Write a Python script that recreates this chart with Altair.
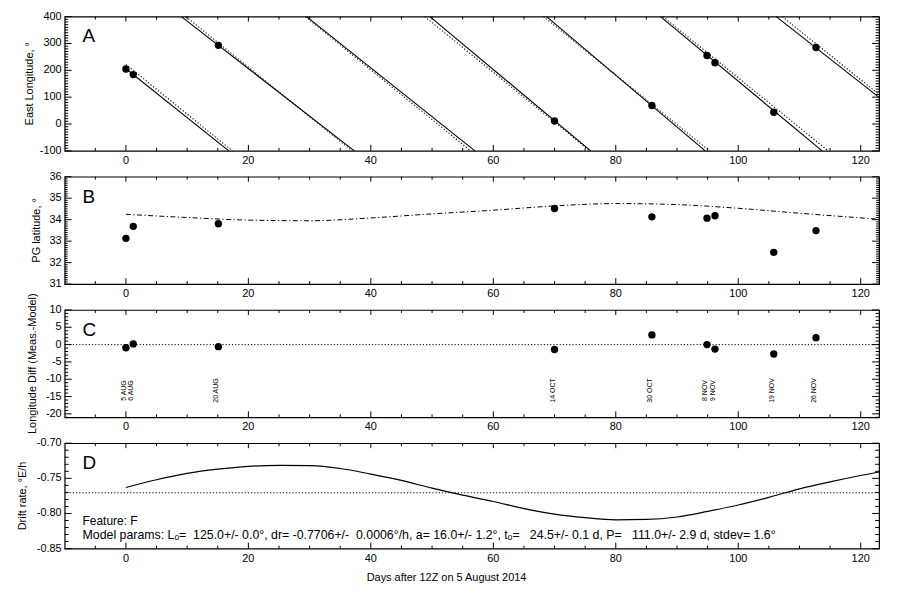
import altair as alt
import pandas as pd

FONT = "Liberation Sans"

# ---------------- data ----------------
obs_day = [0.0, 1.2, 15.1, 70.0, 85.9, 94.9, 96.2, 105.8, 112.7]
obs_date = ["5 AUG", "6 AUG", "20 AUG", "14 OCT", "30 OCT", "8 NOV", "9 NOV", "19 NOV", "26 NOV"]
obs_lon = [205, 184, 293, 11, 69, 255, 228, 44, 285]
obs_lat = [33.13, 33.69, 33.81, 34.52, 34.13, 34.07, 34.18, 32.48, 33.49]
obs_dlon = [-0.9, 0.2, -0.6, -1.4, 2.8, 0.0, -1.3, -2.7, 2.0]

# Panel A: full model tracks (solid) and linear-drift tracks (dotted)
seg_id = [1, 1, 2, 2, 3, 3, 4, 4, 5, 5, 6, 6, 7, 7]
fit_day = [0.0, 16.8, 9.05, 37.3, 29.5, 57.0, 49.65, 75.9, 68.7, 94.6, 87.3, 113.7, 106.2, 123.0]
fit_lon = [206, -100, 400, -100, 400, -100, 400, -100, 400, -100, 400, -100, 400, 99]
lin_day = [0.0, 17.4, 9.8, 36.9, 29.3, 56.3, 48.8, 75.8, 68.2, 95.3, 87.7, 114.7, 107.2, 123.0]
lin_lon = [222, -100, 400, -100, 400, -100, 400, -100, 400, -100, 400, -100, 400, 110]

# Panel B: model latitude (dash-dot)
latm_day = [0, 10, 20, 30, 40, 50, 60, 70, 80, 90, 100, 110, 123]
latm_val = [34.25, 34.10, 33.98, 33.95, 34.08, 34.27, 34.44, 34.64, 34.75, 34.70, 34.53, 34.30, 34.02]

# Panel D: drift rate
drift_day = [0, 5, 10, 15, 20, 25, 30, 35, 40, 45, 50, 55, 60, 65, 70, 75, 80, 85, 90,
             95, 100, 105, 110, 115, 120, 123]
drift_val = [-0.763, -0.752, -0.743, -0.737, -0.733, -0.7315, -0.732, -0.736, -0.744, -0.753,
             -0.764, -0.774, -0.783, -0.793, -0.801, -0.806, -0.809, -0.8085, -0.805, -0.797,
             -0.788, -0.777, -0.765, -0.755, -0.746, -0.741]
drift_mean = [-0.7706]
zero_line = [0.0]

# tick values and tick labels
XDOM = [-10, 123]
XMAJ = [0, 20, 40, 60, 80, 100, 120]
XLAB = ["0", "20", "40", "60", "80", "100", "120"]
XMIN = [v for v in range(-5, 125, 5) if v % 20 != 0]

A_DOM = [-100, 400]
A_MAJ = [-100, 0, 100, 200, 300, 400]
A_LAB = ["-100", "0", "100", "200", "300", "400"]
A_MIN = [v for v in range(-100, 401, 10) if v % 100 != 0]

B_DOM = [31, 36]
B_MAJ = [31, 32, 33, 34, 35, 36]
B_LAB = ["31", "32", "33", "34", "35", "36"]
B_MIN = [round(31 + k * 0.1, 1) for k in range(51) if k % 10 != 0]

C_DOM = [-21, 10]
C_MAJ = [-20, -15, -10, -5, 0, 5, 10]
C_LAB = ["-20", "-15", "-10", "-5", "0", "5", "10"]
C_MIN = [v for v in range(-21, 11) if v % 5 != 0]

D_DOM = [-0.85, -0.70]
D_MAJ = [-0.85, -0.80, -0.75, -0.70]
D_LAB = ["-0.85", "-0.80", "-0.75", "-0.70"]
D_MIN = [round(-0.85 + k * 0.01, 2) for k in range(16) if k % 5 != 0]

panel_letters = ["A", "B", "C", "D"]
feature_text = "Feature: F"
params_text = ("Model params: L\u2092=\u00a0 125.0+/- 0.0\u00b0, dr= -0.7706+/-\u00a0 0.0006\u00b0/h, "
               "a= 16.0+/- 1.2\u00b0, t\u2092=\u00a0\u00a0 24.5+/- 0.1 d, P=\u00a0\u00a0 111.0+/- 2.9 d, stdev= 1.6\u00b0")
x_title = "Days after 12Z on 5 August 2014"
y_titles = ["East Longitude, \u00b0", "PG latitude, \u00b0", "Longitude Diff (Meas.-Model)", "Drift rate, \u00b0E/h"]

# ---------------- tables ----------------
obs = pd.DataFrame({"day": obs_day, "date": obs_date, "lon": obs_lon, "lat": obs_lat, "dlon": obs_dlon})
fit = pd.DataFrame({"seg": seg_id, "day": fit_day, "lon": fit_lon})
lin = pd.DataFrame({"seg": seg_id, "day": lin_day, "lon": lin_lon})
latm = pd.DataFrame({"day": latm_day, "lat": latm_val})
drift = pd.DataFrame({"day": drift_day, "rate": drift_val})
dmean = pd.DataFrame({"rate": drift_mean})
zl = pd.DataFrame({"dlon": zero_line})

W = 819


def xs():
    return alt.Scale(domain=XDOM, nice=False, zero=False)


def ys(dom):
    return alt.Scale(domain=dom, nice=False, zero=False)


def X(field):
    return alt.X(field, type="quantitative", scale=xs(), axis=None)


def Y(field, dom):
    return alt.Y(field, type="quantitative", scale=ys(dom), axis=None)


def frame_layers(h, ydom, ymaj, ylab, ymin, ytitle, ytitle_x, ymaj_len=7, ymin_len=3.5,
                 with_xtitle=False):
    """Inward ticks on all four sides (rules whose ends go through the panel scales),
    tick labels and axis titles."""
    out = []
    ysp = (ydom[1] - ydom[0]) / h          # data units per pixel, y
    xsp = (XDOM[1] - XDOM[0]) / W          # data units per pixel, x
    # x ticks: bottom and top
    for vals, ln_b, ln_t in ((XMAJ, 6, 5), (XMIN, 3, 3)):
        n = len(vals)
        bot = pd.DataFrame({"xv": vals, "ya": [ydom[0]] * n, "yb": [ydom[0] + ln_b * ysp] * n})
        top = pd.DataFrame({"xv": vals, "ya": [ydom[1]] * n, "yb": [ydom[1] - ln_t * ysp] * n})
        for d in (bot, top):
            out.append(alt.Chart(d).mark_rule(color="black", strokeWidth=1).encode(
                x=X("xv"), y=Y("ya", ydom), y2="yb:Q"))
    # y ticks: left and right
    for vals, ln in ((ymaj, ymaj_len), (ymin, ymin_len)):
        n = len(vals)
        left = pd.DataFrame({"yv": vals, "xa": [XDOM[0]] * n, "xb": [XDOM[0] + ln * xsp] * n})
        right = pd.DataFrame({"yv": vals, "xa": [XDOM[1]] * n, "xb": [XDOM[1] - ln * xsp] * n})
        for d in (left, right):
            out.append(alt.Chart(d).mark_rule(color="black", strokeWidth=1).encode(
                y=Y("yv", ydom), x=X("xa"), x2="xb:Q"))
    # x tick labels
    out.append(alt.Chart(pd.DataFrame({"v": XMAJ, "t": XLAB})).mark_text(
        font=FONT, fontSize=11, align="center", baseline="top", color="black").encode(
        x=X("v"), y=alt.value(h + 4), text="t:N"))
    # y tick labels
    out.append(alt.Chart(pd.DataFrame({"v": ymaj, "t": ylab})).mark_text(
        font=FONT, fontSize=11, align="right", baseline="middle", color="black").encode(
        y=Y("v", ydom), x=alt.value(-3), text="t:N"))
    # y title
    out.append(alt.Chart(pd.DataFrame({"t": [ytitle]})).mark_text(
        font=FONT, fontSize=11, align="center", baseline="middle", angle=270, color="black").encode(
        x=alt.value(ytitle_x), y=alt.value(h / 2), text="t:N"))
    if with_xtitle:
        out.append(alt.Chart(pd.DataFrame({"t": [x_title]})).mark_text(
            font=FONT, fontSize=11, align="center", baseline="alphabetic", color="black").encode(
            x=alt.value(384), y=alt.value(h + 33), text="t:N"))
    return out


def letter(i):
    return alt.Chart(pd.DataFrame({"t": [panel_letters[i]]})).mark_text(
        font=FONT, fontSize=19, align="left", baseline="alphabetic", color="black"
    ).encode(x=alt.value(18), y=alt.value(26), text="t:N")


def panel(layers, h):
    return alt.layer(*layers).properties(width=W, height=h)


# ---------------- Panel A ----------------
A_H = 135
a_solid = alt.Chart(fit).mark_line(color="black", strokeWidth=1.1).encode(
    x=X("day"), y=Y("lon", A_DOM), detail="seg:N")
a_dot = alt.Chart(lin).mark_line(color="black", strokeWidth=1.1, strokeDash=[1.2, 2]).encode(
    x=X("day"), y=Y("lon", A_DOM), detail="seg:N")
a_pts = alt.Chart(obs).mark_circle(color="black", opacity=1, size=55).encode(
    x=X("day"), y=Y("lon", A_DOM))
pA = panel([a_solid, a_dot, a_pts, letter(0)] +
           frame_layers(A_H, A_DOM, A_MAJ, A_LAB, A_MIN, y_titles[0], -35), A_H)

# ---------------- Panel B ----------------
B_H = 108
b_line = alt.Chart(latm).mark_line(color="black", strokeWidth=1, strokeDash=[5, 2.5, 1.2, 2.5],
                                   interpolate="monotone").encode(
    x=X("day"), y=Y("lat", B_DOM))
b_pts = alt.Chart(obs).mark_circle(color="black", opacity=1, size=55).encode(
    x=X("day"), y=Y("lat", B_DOM))
pB = panel([b_line, b_pts, letter(1)] +
           frame_layers(B_H, B_DOM, B_MAJ, B_LAB, B_MIN, y_titles[1], -28, 7, 3), B_H)

# ---------------- Panel C ----------------
C_H = 108
c_zero = alt.Chart(zl).mark_rule(color="black", strokeWidth=1, strokeDash=[1.2, 2]).encode(
    y=Y("dlon", C_DOM))
c_pts = alt.Chart(obs).mark_circle(color="black", opacity=1, size=55).encode(
    x=X("day"), y=Y("dlon", C_DOM))
c_txt = alt.Chart(obs).mark_text(font=FONT, fontSize=7, angle=270, align="center",
                                 baseline="alphabetic", color="black").encode(
    x=X("day"), y=alt.value(81), text="date:N")
pC = panel([c_zero, c_pts, c_txt, letter(2)] +
           frame_layers(C_H, C_DOM, C_MAJ, C_LAB, C_MIN, y_titles[2], -32), C_H)

# ---------------- Panel D ----------------
D_H = 106
d_line = alt.Chart(drift).mark_line(color="black", strokeWidth=1.2, interpolate="monotone").encode(
    x=X("day"), y=Y("rate", D_DOM))
d_mean = alt.Chart(dmean).mark_rule(color="black", strokeWidth=1, strokeDash=[1.2, 2]).encode(
    y=Y("rate", D_DOM))
d_feat = alt.Chart(pd.DataFrame({"t": [feature_text]})).mark_text(
    font=FONT, fontSize=12, align="left", baseline="alphabetic", color="black"
).encode(x=alt.value(18), y=alt.value(82), text="t:N")
d_par = alt.Chart(pd.DataFrame({"t": [params_text]})).mark_text(
    font=FONT, fontSize=12.4, align="left", baseline="alphabetic", color="black"
).encode(x=alt.value(18), y=alt.value(96), text="t:N")
pD = panel([d_line, d_mean, d_feat, d_par, letter(3)] +
           frame_layers(D_H, D_DOM, D_MAJ, D_LAB, D_MIN, y_titles[3], -42, 7, 4,
                        with_xtitle=True), D_H)

chart = alt.vconcat(pA, pB, pC, pD, spacing=26, bounds="flush").properties(
    padding={"left": 8, "top": 0, "right": 10, "bottom": 10}
).configure_view(stroke="black", strokeWidth=1.2)

chart.save("out.html", embed_options={"renderer": "svg", "actions": False})
